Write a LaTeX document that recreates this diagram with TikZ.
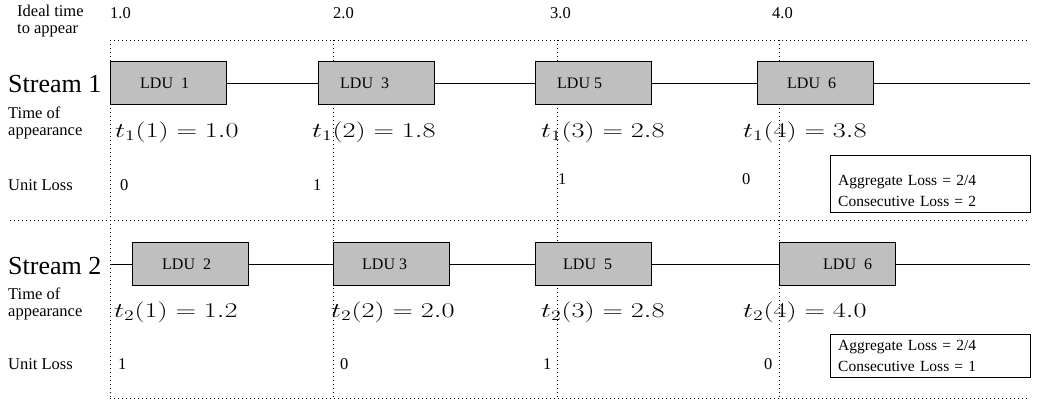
\RequirePackage{fix-cm}
\documentclass[tikz,border=0pt]{standalone}
\usepackage[no-math]{fontspec}
\setmainfont{Liberation Serif}
\newcommand{\tlabel}[1]{\scalebox{1.35}[1]{$#1$}}
\begin{document}
\begin{tikzpicture}[x=1pt,y=-1pt,
  ldu/.style={draw, fill=gray!50, minimum width=116pt, minimum height=43pt, inner sep=0pt},
  lduname/.style={anchor=west, inner sep=0pt, xshift=#1, font=\fontsize{16}{18}\selectfont},
  txt/.style={anchor=base west, inner sep=0pt, align=left, font=\fontsize{16.5}{17}\selectfont},
  streamname/.style={anchor=base west, inner sep=0pt, font=\fontsize{26}{28}\selectfont},
  tm/.style={anchor=base west, inner sep=0pt, font=\fontsize{21}{24}\selectfont},
  lossbox/.style={draw, anchor=north west, align=left, text width=184pt, inner xsep=8pt, inner ysep=6pt, font=\fontsize{15.5}{21}\selectfont},
  grid/.style={dash pattern=on 1pt off 3pt, line width=0.8pt}]

\useasboundingbox (0,0) rectangle (1039,402);

\draw[grid] (110,40) -- (1030,40);
\draw[grid] (10,220) -- (1030,220);
\draw[grid] (110,398) -- (1030,398);
\foreach \x in {110,333,557,779}
  \draw[grid] (\x,40) -- (\x,398);

\node[txt, anchor=north west] (ideal) at (17,5) {Ideal time\\to appear};
\node[txt] (ideal1) at (110,18) {1.0};
\node[txt] (ideal2) at (333,18) {2.0};
\node[txt] (ideal3) at (550,18) {3.0};
\node[txt] (ideal4) at (772,18) {4.0};

\node[streamname] (st1) at (8,92) {Stream 1};
\node[ldu, anchor=west, label={[lduname=30pt]west:LDU\ \ 1}] (s1u1) at (110,83) {};
\node[ldu, anchor=west, label={[lduname=22pt]west:LDU\ \ 3}] (s1u3) at (318,83) {};
\node[ldu, anchor=west, label={[lduname=22pt]west:LDU 5}] (s1u5) at (535,83) {};
\node[ldu, anchor=west, label={[lduname=30pt]west:LDU\ \ 6}] (s1u6) at (757,83) {};
\coordinate (s1end) at (1030,83);
\draw (s1u1) -- (s1u3) -- (s1u5) -- (s1u6) -- (s1end);

\node[txt, anchor=north west] (ta1) at (8,107) {Time of\\appearance};
\node[tm] (t11) at (115,137) {\tlabel{t_1(1) = 1.0}};
\node[tm] (t12) at (312,137) {\tlabel{t_1(2) = 1.8}};
\node[tm] (t13) at (541,137) {\tlabel{t_1(3) = 2.8}};
\node[tm] (t14) at (743,137) {\tlabel{t_1(4) = 3.8}};

\node[txt] (ul1) at (8,190) {Unit Loss};
\node[txt] (ul11) at (120,190) {0};
\node[txt] (ul12) at (313,190) {1};
\node[txt] (ul13) at (558,184) {1};
\node[txt] (ul14) at (742,184) {0};
\node[lossbox] (loss1) at (830,155) {\rule{0pt}{24pt}Aggregate Loss = 2/4\\Consecutive Loss = 2};

\node[streamname] (st2) at (8,274) {Stream 2};
\coordinate (s2start) at (110,264);
\node[ldu, anchor=west, label={[lduname=30pt]west:LDU\ \ 2}] (s2u2) at (132,264) {};
\node[ldu, anchor=west, label={[lduname=29pt]west:LDU 3}] (s2u3) at (333,264) {};
\node[ldu, anchor=west, label={[lduname=28pt]west:LDU\ \ 5}] (s2u5) at (535,264) {};
\node[ldu, anchor=west, label={[lduname=44pt]west:LDU\ \ 6}] (s2u6) at (779,264) {};
\coordinate (s2end) at (1030,264);
\draw (s2start) -- (s2u2) -- (s2u3) -- (s2u5) -- (s2u6) -- (s2end);

\node[txt, anchor=north west] (ta2) at (8,288) {Time of\\appearance};
\node[tm] (t21) at (114,317) {\tlabel{t_2(1) = 1.2}};
\node[tm] (t22) at (331,317) {\tlabel{t_2(2) = 2.0}};
\node[tm] (t23) at (541,317) {\tlabel{t_2(3) = 2.8}};
\node[tm] (t24) at (743,317) {\tlabel{t_2(4) = 4.0}};

\node[txt] (ul2) at (8,369) {Unit Loss};
\node[txt] (ul21) at (118,369) {1};
\node[txt] (ul22) at (340,369) {0};
\node[txt] (ul23) at (543,369) {1};
\node[txt] (ul24) at (764,369) {0};
\node[lossbox] (loss2) at (830,334) {Aggregate Loss = 2/4\\Consecutive Loss = 1};

\end{tikzpicture}
\end{document}
